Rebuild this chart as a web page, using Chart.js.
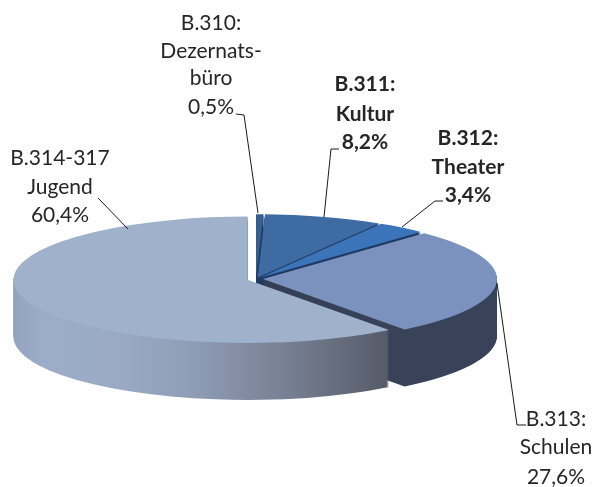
<!DOCTYPE html>
<html><head><meta charset="utf-8">
<style>html,body{margin:0;padding:0;background:#fff}#w{width:596px;height:487px}canvas{display:block}</style>
<script src="https://cdn.jsdelivr.net/npm/chart.js@4/dist/chart.umd.min.js"></script>
</head><body><div id="w"><canvas id="c" width="596" height="487"></canvas></div>
<script>
const categories=["B.310: Dezernatsbüro","B.311: Kultur","B.312: Theater","B.313: Schulen","B.314-317 Jugend"];
const values=[0.5,8.2,3.4,27.6,60.4];
const topColors=["#365f92","#3f6ba3","#3b74b8","#7a92bd","#a0b1cc"];
const explode=[6,6,6,7,9];
const wallStops=[
 [[0,"#1f3a60"],[1,"#1f3a60"]],
 [[0,"#1f3a60"],[1,"#1f3a60"]],
 [[0,"#1f3a60"],[1,"#1f3a60"]],
 [[0,"#2d3850"],[1,"#38435a"]],
 [[0,"#8fa1be"],[0.1,"#9cadc9"],[0.3,"#9aaac6"],[0.5,"#8f9cb5"],[0.75,"#767f92"],[1,"#565c69"]]
];
const labelLines=[
 {lines:["B.310:","Dezernats-","büro","0,5%"],x:211,ys:[30,58,85,114],bold:false},
 {lines:["B.311:","Kultur","8,2%"],x:365,ys:[91,121,149],bold:true},
 {lines:["B.312:","Theater","3,4%"],x:468,ys:[145,174,202],bold:true},
 {lines:["B.313:","Schulen","27,6%"],x:556,ys:[426,454,484],bold:false},
 {lines:["B.314-317","Jugend","60,4%"],x:60,ys:[165,194,222],bold:false}
];
const leaders=[
 [[236,114],[244,115],[258,213]],
 [[339,149],[331,149],[324,217]],
 [[443,201],[435,201],[402,227]],
 [[497,283],[517,425],[526,425]],
 [[98,198],[128,229]]
];
const K=0.27, DEPTH=57, RADIUS=234;
const baseOpts={borderWidth:0,borderColor:'transparent',offset:0,spacing:0,circular:true,borderAlign:'center',borderRadius:0,borderDash:[],borderDashOffset:0,borderJoinStyle:'round',selfJoin:false};
function drawArc(ctx,arc,fill){
  const p=Object.create(arc);
  p.options=Object.assign({},baseOpts,{backgroundColor:fill});
  ArcProto.draw.call(p,ctx);
}
const ArcProto=Chart.ArcElement.prototype;
const pie3d={
  id:'pie3d',
  beforeDatasetsDraw(chart){
    const ctx=chart.ctx, arcs=chart.getDatasetMeta(0).data;
    arcs.forEach((arc,i)=>{
      const mid=(arc.startAngle+arc.endAngle)/2;
      const dx=Math.cos(mid)*explode[i], dy=Math.sin(mid)*explode[i];
      const g=ctx.createLinearGradient(arc.x+dx-RADIUS,0,arc.x+dx+RADIUS*0.62,0);
      if(i===3){g.addColorStop(0,wallStops[3][0][1]);g.addColorStop(1,wallStops[3][1][1]);}
      else wallStops[i].forEach(s=>g.addColorStop(s[0],s[1]));
      for(let d=DEPTH;d>=0;d--){
        ctx.save();
        ctx.translate(dx,arc.y+d+dy*K);
        ctx.scale(1,K);
        ctx.translate(0,-arc.y);
        drawArc(ctx,arc,d===0?topColors[i]:g);
        ctx.restore();
      }
    });
    return false;
  },
  afterDraw(chart){
    const ctx=chart.ctx;
    ctx.save();
    ctx.strokeStyle="#1a1a1a";ctx.lineWidth=1;
    leaders.forEach(l=>{ctx.beginPath();l.forEach((p,i)=>i?ctx.lineTo(p[0],p[1]):ctx.moveTo(p[0],p[1]));ctx.stroke();});
    ctx.fillStyle="#262626";ctx.textAlign="center";ctx.textBaseline="alphabetic";
    labelLines.forEach(b=>{
      ctx.font=(b.bold?"bold ":"")+"21px Lato";
      b.lines.forEach((t,i)=>ctx.fillText(t,b.x,b.ys[i]));
    });
    ctx.restore();
  }
};
new Chart(document.getElementById('c'),{
  type:'pie',
  data:{labels:categories,datasets:[{data:values,backgroundColor:topColors,borderWidth:0}]},
  options:{
    responsive:false,animation:false,radius:RADIUS,
    layout:{padding:{left:0,right:84,top:71,bottom:0}},
    plugins:{legend:{display:false},tooltip:{enabled:false}}
  },
  plugins:[pie3d]
});
</script></body></html>
